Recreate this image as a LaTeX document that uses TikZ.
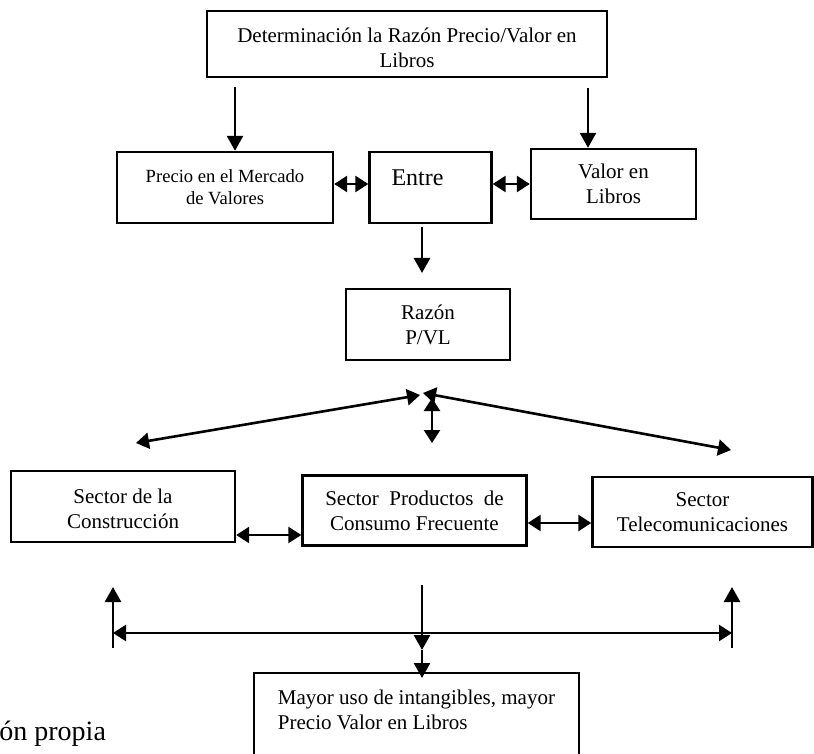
\documentclass[tikz,border=0pt]{standalone}
\usepackage{fontspec}
\setmainfont{Liberation Serif}
\usetikzlibrary{arrows.meta, positioning, calc}
\tikzset{box/.style={draw, line width=1.2pt, inner sep=0pt, align=center, font=\fontsize{10.5}{12.5}\selectfont}}
\tikzset{arr/.style={line width=1.3pt, -{Triangle[length=7.5pt, width=8pt]}}}
\tikzset{darr/.style={line width=1.3pt, {Triangle[length=6.5pt, width=8pt]}-{Triangle[length=6.5pt, width=8pt]}}}

\begin{document}
\begin{tikzpicture}[x=0.5pt, y=-0.5pt]
      \useasboundingbox (0,0) rectangle (814,754);

      \node[box, minimum width=200pt, minimum height=33pt] (det) at (407,44) {\rule{0pt}{11.5pt}Determinación la Razón Precio/Valor en\\Libros};

      \node[box, minimum width=108pt, minimum height=35.5pt, font=\fontsize{9.3}{11}\selectfont] (precio) at (225,187.5) {Precio en el Mercado\\de Valores};
      \node[box, minimum width=61pt, minimum height=35.5pt, font=\fontsize{12}{14}\selectfont] (entre) at (430.5,187.5) {\raisebox{0.75pt}[0pt][0pt]{Entre}\hspace{13pt}};
      \node[box, minimum width=82.5pt, minimum height=35pt] (valor) at (613.5,184) {Valor en\\Libros};

      \node[box, minimum width=82pt, minimum height=35.5pt] (razon) at (428,324.5) {Razón\\P/VL};

      \node[box, minimum width=112pt, minimum height=35.5pt] (constr) at (123,506.5) {\rule{0pt}{9.5pt}Sector de la\\Construcción};
      \node[box, minimum width=112pt, minimum height=35pt] (prod) at (414.5,510.5) {Sector\ \ Productos\ \ de\\Consumo Frecuente};
      \node[box, minimum width=110pt, minimum height=35pt] (tele) at (702.5,512) {Sector\\Telecomunicaciones};

      \node[box, anchor=north, minimum width=162.5pt, minimum height=60pt, align=left, inner ysep=8.5pt, text depth=40pt] (mayor) at (416.5,672) {Mayor uso de intangibles, mayor\\Precio Valor en Libros};

      \node[anchor=base west, inner sep=0pt, font=\fontsize{14}{16}\selectfont] (fuente) at (-1,740) {ón propia};

      \coordinate (a1) at (235,87);
      \coordinate (a2) at (588,88);
      \draw[arr] (a1) -- (a1 |- precio.north);
      \draw[arr] (a2) -- (a2 |- valor.north);

      \draw[darr] (precio.east |- 0,184) -- (entre.west |- 0,184);
      \draw[darr] (entre.east |- 0,184) -- (valor.west |- 0,184);

      \coordinate (e1) at (422,227);
      \draw[arr] (e1) -- (422,273);

      \coordinate (hubl) at (420,395);
      \coordinate (hubr) at (423,393);
      \coordinate (hubv) at (432,398);
      \coordinate (sl) at (136,443);
      \coordinate (sr) at (731,450);
      \coordinate (sv) at (432,443);
      \draw[darr] (hubl) -- (sl);
      \draw[darr] (hubr) -- (sr);
      \draw[darr] (hubv) -- (sv);

      \draw[darr] (constr.east |- 0,535) -- (prod.west |- 0,535);
      \draw[darr] (prod.east |- 0,523) -- (tele.west |- 0,523);

      \coordinate (ul) at (113,648);
      \coordinate (ur) at (732,648);
      \coordinate (hl) at (113,633);
      \coordinate (hr) at (732,633);
      \coordinate (m0) at (422,585);
      \coordinate (m1) at (422,650);
      \draw[arr] (ul) -- (113,587);
      \draw[arr] (ur) -- (732,587);
      \draw[darr] (hl) -- (hr);
      \draw[arr] (m0) -- (m1);
      \draw[arr] (m1) -- ([yshift=-3pt]m1 |- mayor.north);
\end{tikzpicture}
\end{document}
